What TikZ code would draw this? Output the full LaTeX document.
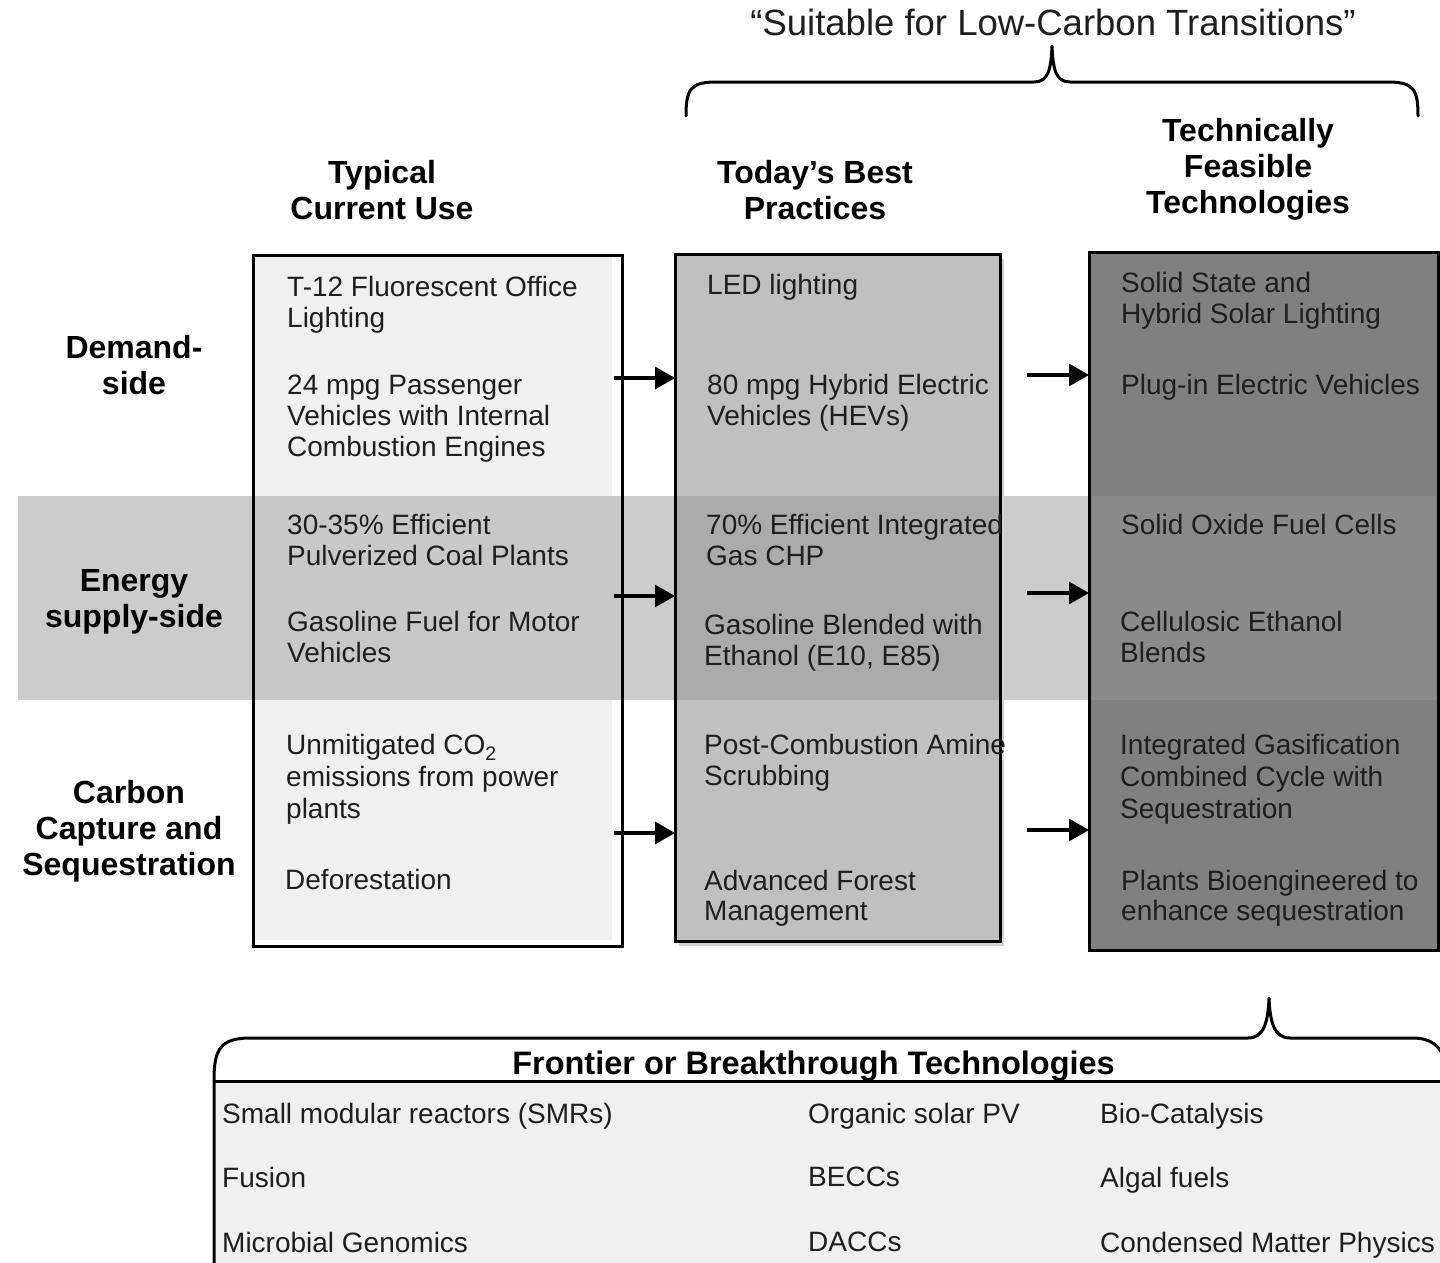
\documentclass[tikz,border=0pt]{standalone}
\usepackage{fontspec}
\setmainfont{Liberation Sans}
\usetikzlibrary{arrows.meta}
\definecolor{txt}{HTML}{1E1E1E}
\definecolor{bandc}{HTML}{CCCCCC}
\definecolor{cOne}{HTML}{F0F0F0}
\definecolor{cOneB}{HTML}{C8C8C8}
\definecolor{cTwo}{HTML}{C0C0C0}
\definecolor{cTwoB}{HTML}{ABABAB}
\definecolor{cThree}{HTML}{808080}
\definecolor{cThreeB}{HTML}{8A8A8A}
\definecolor{shadowc}{HTML}{D2D2D2}
\begin{document}
\begin{tikzpicture}[x=1pt,y=-1pt,
  colbox/.style={draw=black, line width=3pt, inner sep=0pt, outer sep=0pt, anchor=north west},
  item/.style={anchor=north west, inner sep=0pt, align=left, text=txt, font=\fontsize{28}{31}\selectfont},
  ccitem/.style={anchor=north west, inner sep=0pt, align=left, text=txt, font=\fontsize{28}{32}\selectfont},
  bitem/.style={anchor=north west, inner sep=0pt, text=txt, font=\fontsize{28}{31}\selectfont},
  head/.style={anchor=north, inner sep=0pt, align=center, font=\bfseries\fontsize{32}{36}\selectfont},
  arr/.style={line width=3.2pt, -{Triangle[length=20pt,width=22pt]}},
  brace/.style={line width=3pt, line cap=round, line join=round}
]
\useasboundingbox (0,0) rectangle (1440,1263);
\fill[white] (0,0) rectangle (1440,1263);

% title and top brace
\node[anchor=north, inner sep=0pt, text=txt, font=\fontsize{36.5}{40}\selectfont] (title) at (1053,9) {“Suitable for Low-Carbon Transitions”};
\draw[brace] (686,116) .. controls (686,90) and (690,82) .. (716,82) -- (1034,82)
  .. controls (1048,82) and (1051,70) .. (1052,46)
  .. controls (1053,70) and (1056,82) .. (1070,82) -- (1388,82)
  .. controls (1414,82) and (1418,90) .. (1418,116);

% column headings
\node[head] (hTyp) at (382,160) {Typical\\Current Use};
\node[head] (hBest) at (815,160) {Today’s Best\\Practices};
\node[head] (hTech) at (1248,118) {Technically\\Feasible\\Technologies};

% band
\fill[bandc] (18,496) rectangle (1440,700);

% column fills
\fill[white] (253,255) rectangle (622,946);
\fill[cOne] (253,255) rectangle (612,940);
\fill[cOneB] (253,496) rectangle (622,700);
\fill[shadowc] (679,259) rectangle (1004,946);
\fill[cTwo] (675,254) rectangle (1000,941);
\fill[cTwoB] (675,496) rectangle (1000,700);
\fill[cThree] (1089,252) rectangle (1440,950);
\fill[cThreeB] (1089,496) rectangle (1440,700);

% column boxes
\node[colbox, minimum width=369pt, minimum height=691pt] (c1) at (253,255) {};
\node[colbox, minimum width=325pt, minimum height=687pt] (c2) at (675,254) {};
\node[colbox, minimum width=349pt, minimum height=698pt] (c3) at (1089,252) {};

% row labels
\node[head] (rDem) at (134,335) {Demand-\\side};
\node[head] (rEn) at (134,569) {Energy\\supply-side};
\node[head] (rCar) at (129,780) {Carbon\\Capture and\\Sequestration};

% column 1 items
\node[item] (t1a) at (287,276.5) {T-12 Fluorescent Office\\Lighting};
\node[item] (t1b) at (287,374.5) {24 mpg Passenger\\Vehicles with Internal\\Combustion Engines};
\node[item] (t1c) at (287,514.5) {30-35\% Efficient\\Pulverized Coal Plants};
\node[item] (t1d) at (287,611.5) {Gasoline Fuel for Motor\\Vehicles};
\node[ccitem] (t1e) at (286,734.5) {Unmitigated CO\textsubscript{2}\\emissions from power\\plants};
\node[item] (t1f) at (285,869.5) {Deforestation};

% column 2 items
\node[item] (t2a) at (707,274.5) {LED lighting};
\node[item] (t2b) at (707,374.5) {80 mpg Hybrid Electric\\Vehicles (HEVs)};
\node[item] (t2c) at (706,514.5) {70\% Efficient Integrated\\Gas CHP};
\node[item] (t2d) at (704,614.5) {Gasoline Blended with\\Ethanol (E10, E85)};
\node[item] (t2e) at (704,734.5) {Post-Combustion Amine\\Scrubbing};
\node[item] (t2f) at (704,869.5) {Advanced Forest\\Management};

% column 3 items
\node[item] (t3a) at (1121,272.5) {Solid State and\\Hybrid Solar Lighting};
\node[item] (t3b) at (1121,374.5) {Plug-in Electric Vehicles};
\node[item] (t3c) at (1121,514.5) {Solid Oxide Fuel Cells};
\node[item] (t3d) at (1120,611.5) {Cellulosic Ethanol\\Blends};
\node[ccitem] (t3e) at (1120,734.5) {Integrated Gasification\\Combined Cycle with\\Sequestration};
\node[item] (t3f) at (1121,869.5) {Plants Bioengineered to\\enhance sequestration};

% arrows
\coordinate (a1) at (614,378);
\coordinate (a2) at (614,596);
\coordinate (a3) at (614,833);
\coordinate (b1) at (1027,375);
\coordinate (b2) at (1027,593);
\coordinate (b3) at (1027,830);
\draw[arr] (a1) -- (a1 -| c2.west);
\draw[arr] (a2) -- (a2 -| c2.west);
\draw[arr] (a3) -- (a3 -| c2.west);
\draw[arr] (b1) -- (b1 -| c3.west);
\draw[arr] (b2) -- (b2 -| c3.west);
\draw[arr] (b3) -- (b3 -| c3.west);

% bottom frontier box
\fill[cOne] (214,1081) rectangle (1450,1270);
\draw[brace] (214,1275) -- (214,1080) .. controls (214,1050) and (220,1038) .. (250,1038) -- (1248,1038)
  .. controls (1264,1038) and (1268,1022) .. (1269,998)
  .. controls (1270,1022) and (1274,1038) .. (1290,1038) -- (1412,1038)
  .. controls (1432,1038) and (1440,1046) .. (1446,1062);
\draw[line width=3pt] (214,1081) -- (1450,1081);
\node[anchor=north, inner sep=0pt, font=\bfseries\fontsize{32.5}{36}\selectfont] (fTitle) at (813.5,1051) {Frontier or Breakthrough Technologies};
\node[bitem] (f1) at (222,1102.5) {Small modular reactors (SMRs)};
\node[bitem] (f2) at (222,1166.5) {Fusion};
\node[bitem] (f3) at (222,1231.5) {Microbial Genomics};
\node[bitem] (f4) at (808,1102.5) {Organic solar PV};
\node[bitem] (f5) at (808,1166.5) {BECCs};
\node[bitem] (f6) at (808,1231.5) {DACCs};
\node[bitem] (f7) at (1100,1102.5) {Bio-Catalysis};
\node[bitem] (f8) at (1100,1166.5) {Algal fuels};
\node[bitem] (f9) at (1100,1231.5) {Condensed Matter Physics};
\end{tikzpicture}
\end{document}
